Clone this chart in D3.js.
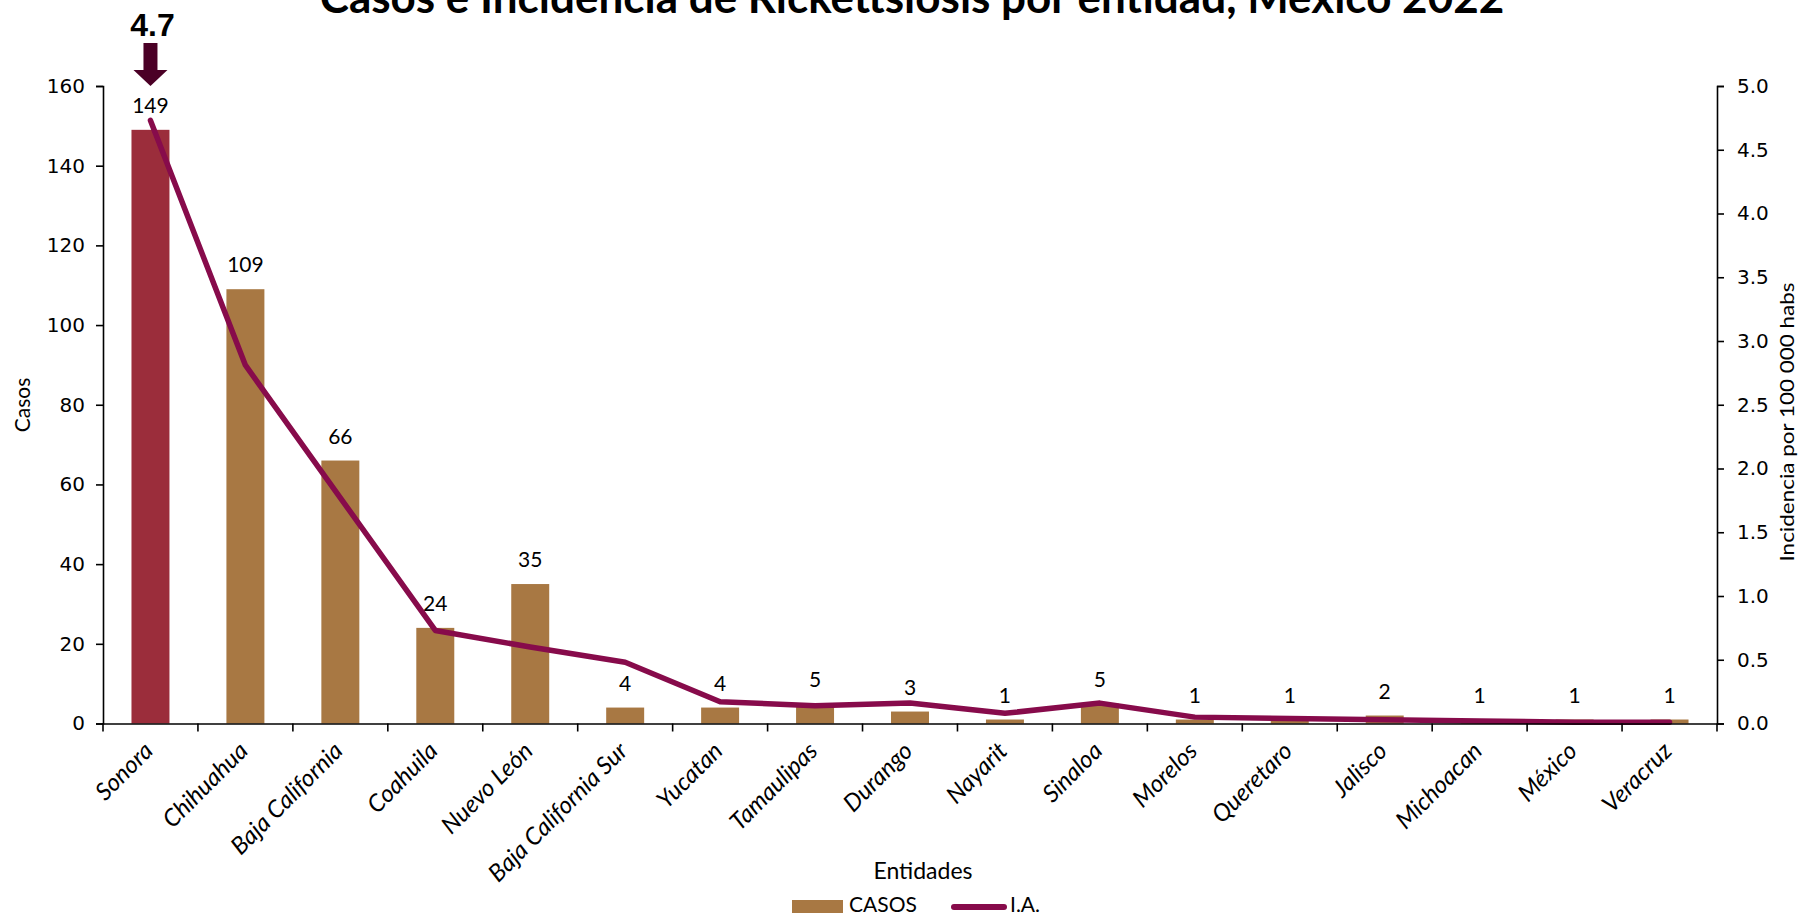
<!DOCTYPE html>
<html>
<head>
  <meta charset="utf-8">
  <title>Rickettsiosis 2022</title>
  <script src="https://cdn.jsdelivr.net/npm/d3@7"></script>
  <style>
    body { margin: 0; background: #fff; }
    svg { display: block; }
  </style>
</head>
<body>
  <div id="chart"></div>
  <script>
    // data
    const entidades = ["Sonora", "Chihuahua", "Baja California", "Coahuila", "Nuevo León",
      "Baja California Sur", "Yucatan", "Tamaulipas", "Durango", "Nayarit", "Sinaloa",
      "Morelos", "Queretaro", "Jalisco", "Michoacan", "México", "Veracruz"];
    const casos = [149, 109, 66, 24, 35, 4, 4, 5, 3, 1, 5, 1, 1, 2, 1, 1, 1];
    const incidencia = [4.73, 2.81, 1.77, 0.73, 0.6, 0.48, 0.17, 0.14, 0.16, 0.08, 0.16,
      0.05, 0.04, 0.03, 0.02, 0.01, 0.01];
    const casosTicks = [0, 20, 40, 60, 80, 100, 120, 140, 160];
    const iaTicks = [0, 0.5, 1, 1.5, 2, 2.5, 3, 3.5, 4, 4.5, 5];

    const width = 1798, height = 915;
    const margin = { top: 86, right: 81, bottom: 191.5, left: 103 };
    const innerW = width - margin.left - margin.right;
    const innerH = height - margin.top - margin.bottom;

    const barColor = "#a87843",
          topColor = "#9b2d3b",
          lineColor = "#870b4b";

    const svg = d3.select("#chart").append("svg")
      .attr("width", width)
      .attr("height", height);

    const g = svg.append("g").attr("transform", `translate(${margin.left},${margin.top})`);

    const x = d3.scaleBand().domain(entidades).range([0, innerW])
      .paddingInner(0.6).paddingOuter(0.3);
    const y = d3.scaleLinear().domain([0, 160]).range([innerH, 0]);
    const y2 = d3.scaleLinear().domain([0, 5]).range([innerH, 0]);

    const rows = entidades.map((e, i) => ({ e: e, c: casos[i], ia: incidencia[i] }));

    // bars
    g.selectAll("rect.bar").data(rows).enter().append("rect")
      .attr("class", "bar")
      .attr("x", d => x(d.e))
      .attr("y", d => y(d.c))
      .attr("width", x.bandwidth())
      .attr("height", d => innerH - y(d.c))
      .attr("fill", (d, i) => i == 0 ? topColor : barColor);

    // bar labels
    g.selectAll("text.lbl").data(rows).enter().append("text")
      .attr("class", "lbl")
      .attr("x", d => x(d.e) + x.bandwidth() / 2)
      .attr("y", d => y(d.c) - 17)
      .attr("text-anchor", "middle")
      .style("font-family", "Lato, sans-serif")
      .style("font-size", "21px")
      .attr("fill", "#000")
      .text(d => d.c);

    // incidence line
    const line = d3.line()
      .x(d => x(d.e) + x.bandwidth() / 2)
      .y(d => y2(d.ia));
    g.append("path").datum(rows)
      .attr("d", line)
      .attr("fill", "none")
      .attr("stroke", lineColor)
      .attr("stroke-width", 5.5)
      .attr("stroke-linecap", "round")
      .attr("stroke-linejoin", "round");

    // axes
    const leftAxis = d3.axisLeft(y).tickValues(casosTicks).tickSize(7).tickPadding(11);
    const gl = g.append("g").call(leftAxis);
    gl.selectAll("text").style("font-family", "DejaVu Sans, sans-serif").style("font-size", "20px").attr("fill", "#000");

    const rightAxis = d3.axisRight(y2).tickValues(iaTicks).tickSize(7).tickPadding(13)
      .tickFormat(d3.format(".1f"));
    const gr = g.append("g").attr("transform", `translate(${innerW},0)`).call(rightAxis);
    gr.selectAll("text").style("font-family", "DejaVu Sans, sans-serif").style("font-size", "20px").attr("fill", "#000");

    const bottomAxis = d3.axisBottom(x).tickSize(0).tickFormat("");
    const gb = g.append("g").attr("transform", `translate(0,${innerH})`).call(bottomAxis);

    // tick marks between categories
    const bounds = d3.range(entidades.length + 1).map(i => i * innerW / entidades.length);
    gb.selectAll("line.sep").data(bounds).enter().append("line")
      .attr("class", "sep")
      .attr("x1", d => d).attr("x2", d => d)
      .attr("y1", 0).attr("y2", 8)
      .attr("stroke", "#000");

    [gl, gr, gb].forEach(a => {
      a.selectAll(".domain").attr("stroke", "#000").attr("stroke-width", 1.6);
      a.selectAll("line").attr("stroke", "#000").attr("stroke-width", 1.6);
    });

    // rotated category labels
    gb.selectAll("text.cat").data(entidades).enter().append("text")
      .attr("class", "cat")
      .attr("transform", d => `translate(${x(d) + x.bandwidth() / 2 - 2},${23}) rotate(-45)`)
      .attr("text-anchor", "end")
      .attr("dy", "0.35em")
      .style("font-family", "Lato, sans-serif")
      .style("font-style", "italic")
      .style("font-size", "24px")
      .attr("fill", "#000")
      .text(d => d);

    // axis titles
    svg.append("text")
      .attr("transform", "translate(30,405) rotate(-90)")
      .attr("text-anchor", "middle")
      .style("font-family", "Lato, sans-serif")
      .style("font-size", "21px")
      .text("Casos");

    svg.append("text")
      .attr("transform", "translate(1794,422) rotate(-90)")
      .attr("text-anchor", "middle")
      .attr("textLength", 279)
      .attr("lengthAdjust", "spacingAndGlyphs")
      .style("font-family", "Lato, sans-serif")
      .style("font-size", "19px")
      .text("Incidencia por 100 000 habs");

    svg.append("text")
      .attr("x", 923).attr("y", 879)
      .attr("text-anchor", "middle")
      .style("font-family", "Lato, sans-serif")
      .style("font-size", "23px")
      .text("Entidades");

    // title (top is clipped, like the original)
    svg.append("text")
      .attr("x", 912).attr("y", 13)
      .attr("text-anchor", "middle")
      .style("font-family", "Lato, sans-serif")
      .style("font-weight", "bold")
      .style("font-size", "44px")
      .text("Casos e Incidencia de Rickettsiosis por entidad, México 2022");

    // arrow + highlight value for Sonora
    const sx = margin.left + x(entidades[0]) + x.bandwidth() / 2;
    svg.append("path")
      .attr("d", `M${sx - 7},43 L${sx + 7},43 L${sx + 7},70 L${sx + 17},70 L${sx},86 L${sx - 17},70 L${sx - 7},70 Z`)
      .attr("fill", "#4b0026");
    svg.append("text")
      .attr("x", sx + 2).attr("y", 36)
      .attr("text-anchor", "middle")
      .style("font-family", "Liberation Sans, Arial, sans-serif")
      .style("font-weight", "bold")
      .style("font-size", "32px")
      .text(d3.format(".1f")(incidencia[0]));

    // legend
    const lg = svg.append("g");
    lg.append("rect").attr("x", 792).attr("y", 900).attr("width", 51).attr("height", 13).attr("fill", barColor);
    lg.append("text").attr("x", 849).attr("y", 912)
      .style("font-family", "Lato, sans-serif").style("font-size", "21px").text("CASOS");
    lg.append("line").attr("x1", 954).attr("x2", 1004).attr("y1", 907).attr("y2", 907)
      .attr("stroke", lineColor).attr("stroke-width", 6).attr("stroke-linecap", "round");
    lg.append("text").attr("x", 1010).attr("y", 912)
      .style("font-family", "Lato, sans-serif").style("font-size", "21px").text("I.A.");
  </script>
</body>
</html>
